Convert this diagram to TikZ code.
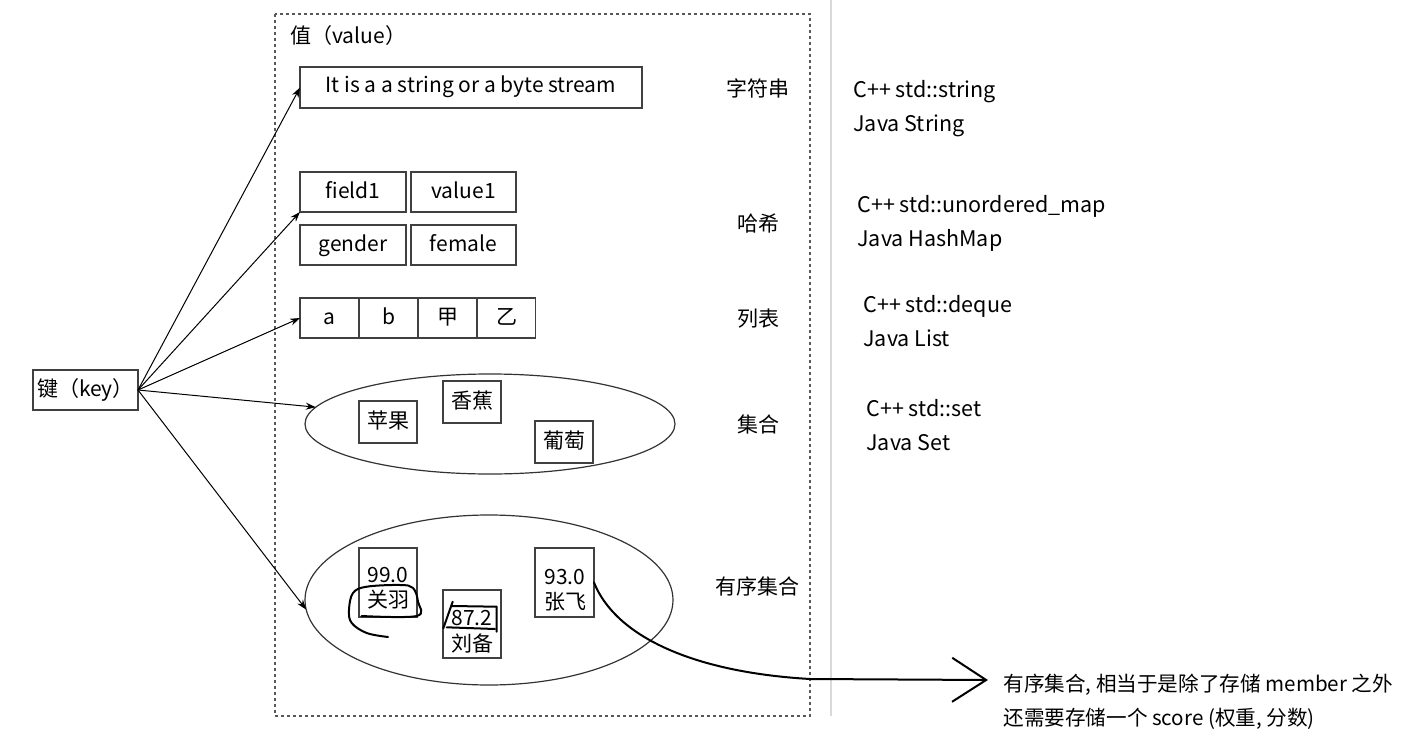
\documentclass[tikz,border=0pt]{standalone}
\usepackage{fontspec}
\setmainfont{Noto Sans CJK SC}
\usetikzlibrary{arrows.meta,shapes.geometric}
\begin{document}
\begin{tikzpicture}[x=0.5pt,y=-0.5pt,
  font=\fontsize{10.5}{12.5}\selectfont,
  bx/.style={draw=black!75, line width=0.6pt, inner sep=0pt, outer sep=0pt, text height=7.6pt, text depth=1.6pt},
  sbx/.style={draw=black!75, line width=0.6pt, inner sep=0pt, outer sep=0pt},
  ell/.style={draw=black!80, line width=0.6pt, ellipse, inner sep=0pt, outer sep=0pt},
  arr/.style={-{Stealth[length=5pt,width=3.5pt]}, line width=0.5pt, black},
  lbl/.style={inner sep=0pt},
  side/.style={inner sep=0pt, align=left, anchor=west, font=\fontsize{10.75}{17}\selectfont},
  hand/.style={line width=1pt, black, line cap=round, line join=round}]
\useasboundingbox (0,0) rectangle (1405,750);
% frames
\draw[black!65, line width=0.6pt, dash pattern=on 1.5pt off 1.5pt] (275,14) rectangle (810,716);
\draw[black!15, line width=0.8pt] (831,0) -- (831,716);
\node[lbl, anchor=west] (vlabel) at (290,36) {值（value）};
% key
\node[bx, minimum width=52.5pt, minimum height=20pt] (key) at (85.5,390) {键（key）};
% string
\node[bx, minimum width=171pt, minimum height=20.5pt, text height=7pt, text depth=2.4pt] (str) at (471,87.5) {It is a a string or a byte stream};
% hash
\node[bx, minimum width=53pt, minimum height=20pt] (f1) at (353,192) {field1};
\node[bx, minimum width=52.5pt, minimum height=20pt] (v1) at (463.5,192) {value1};
\node[bx, minimum width=53pt, minimum height=20pt] (g) at (353,245) {gender};
\node[bx, minimum width=52.5pt, minimum height=20pt] (fe) at (463.5,245) {female};
% list
\node[bx, minimum width=29.5pt, minimum height=20pt] (la) at (329.5,318) {a};
\node[bx, minimum width=29.5pt, minimum height=20pt] (lb) at (388.5,318) {b};
\node[bx, minimum width=29.5pt, minimum height=20pt] (lc) at (447.5,318) {甲};
\node[bx, minimum width=29pt, minimum height=20pt] (ld) at (506.5,318) {乙};
% set
\node[ell, minimum width=185pt, minimum height=50pt] (setell) at (490,424) {};
\node[bx, minimum width=29pt, minimum height=21pt] (s1) at (388,422) {苹果};
\node[bx, minimum width=29pt, minimum height=21pt] (s2) at (472,402) {香蕉};
\node[bx, minimum width=29pt, minimum height=21pt] (s3) at (564,442) {葡萄};
% ordered set
\node[ell, minimum width=184pt, minimum height=85pt] (ordell) at (489,600) {};
\node[sbx, minimum width=29pt, minimum height=34.5pt] (z1) at (388,582.5) {};
\node[sbx, minimum width=29.5pt, minimum height=34.5pt] (z3) at (564.5,582.5) {};
\node[sbx, minimum width=29pt, minimum height=34pt] (z2) at (472,624) {};
\node[lbl, align=center, font=\fontsize{10.5}{12.3}\selectfont] (z1t) at (388,588) {99.0\\关羽};
\node[lbl, align=center, font=\fontsize{10.5}{12.3}\selectfont] (z3t) at (565,590) {93.0\\张飞};
\node[lbl, align=center, font=\fontsize{10.5}{12.8}\selectfont] (z2t) at (472,632) {87.2\\刘备};
% side labels
\node[lbl] (t1) at (758,88) {字符串};
\node[lbl] (t2) at (758,224) {哈希};
\node[lbl] (t3) at (758,319) {列表};
\node[lbl] (t4) at (758,424) {集合};
\node[lbl] (t5) at (757,586) {有序集合};
% right column
\node[side] (r1) at (853,109) {C++ std::string\\Java String};
\node[side] (r2) at (857,223) {C++ std::unordered\_map\\Java HashMap};
\node[side] (r3) at (863,321) {C++ std::deque\\Java List};
\node[side] (r4) at (866,425) {C++ std::set\\Java Set};
% note
\node[side, font=\fontsize{10.3}{17}\selectfont] (note) at (1003,702) {有序集合, 相当于是除了存储 member 之外\\还需要存储一个 score (权重, 分数)};
% arrows
\draw[arr] (key.east) -- (str.west);
\draw[arr] (key.east) -- (f1.south west);
\draw[arr] (key.east) -- (la.west);
\draw[arr] (key.east) -- (setell);
\draw[arr] (key.east) -- (ordell.183);
% handwritten marks
\draw[hand] plot[smooth, tension=0.6] coordinates {(361.7,616) (416.7,616) (418,601.7) (413,588) (400,585) (366.7,586.7) (353,593) (349,610) (351.7,623) (366.7,633) (388,637)};
\draw[hand] (443.3,628.3) -- (452.7,601.7);
\draw[hand] (446.7,627.3) -- (495,629);
\draw[hand] (451.7,606) -- (496.7,606.7) -- (496.7,631.7);
\coordinate (tipend) at (988,680);
\draw[hand, -{Straight Barb[length=17pt,width=22pt,line width=1pt]}] (z3.east) .. controls (615,635) and (690,672) .. (810,679) -- (tipend);
\end{tikzpicture}
\end{document}
